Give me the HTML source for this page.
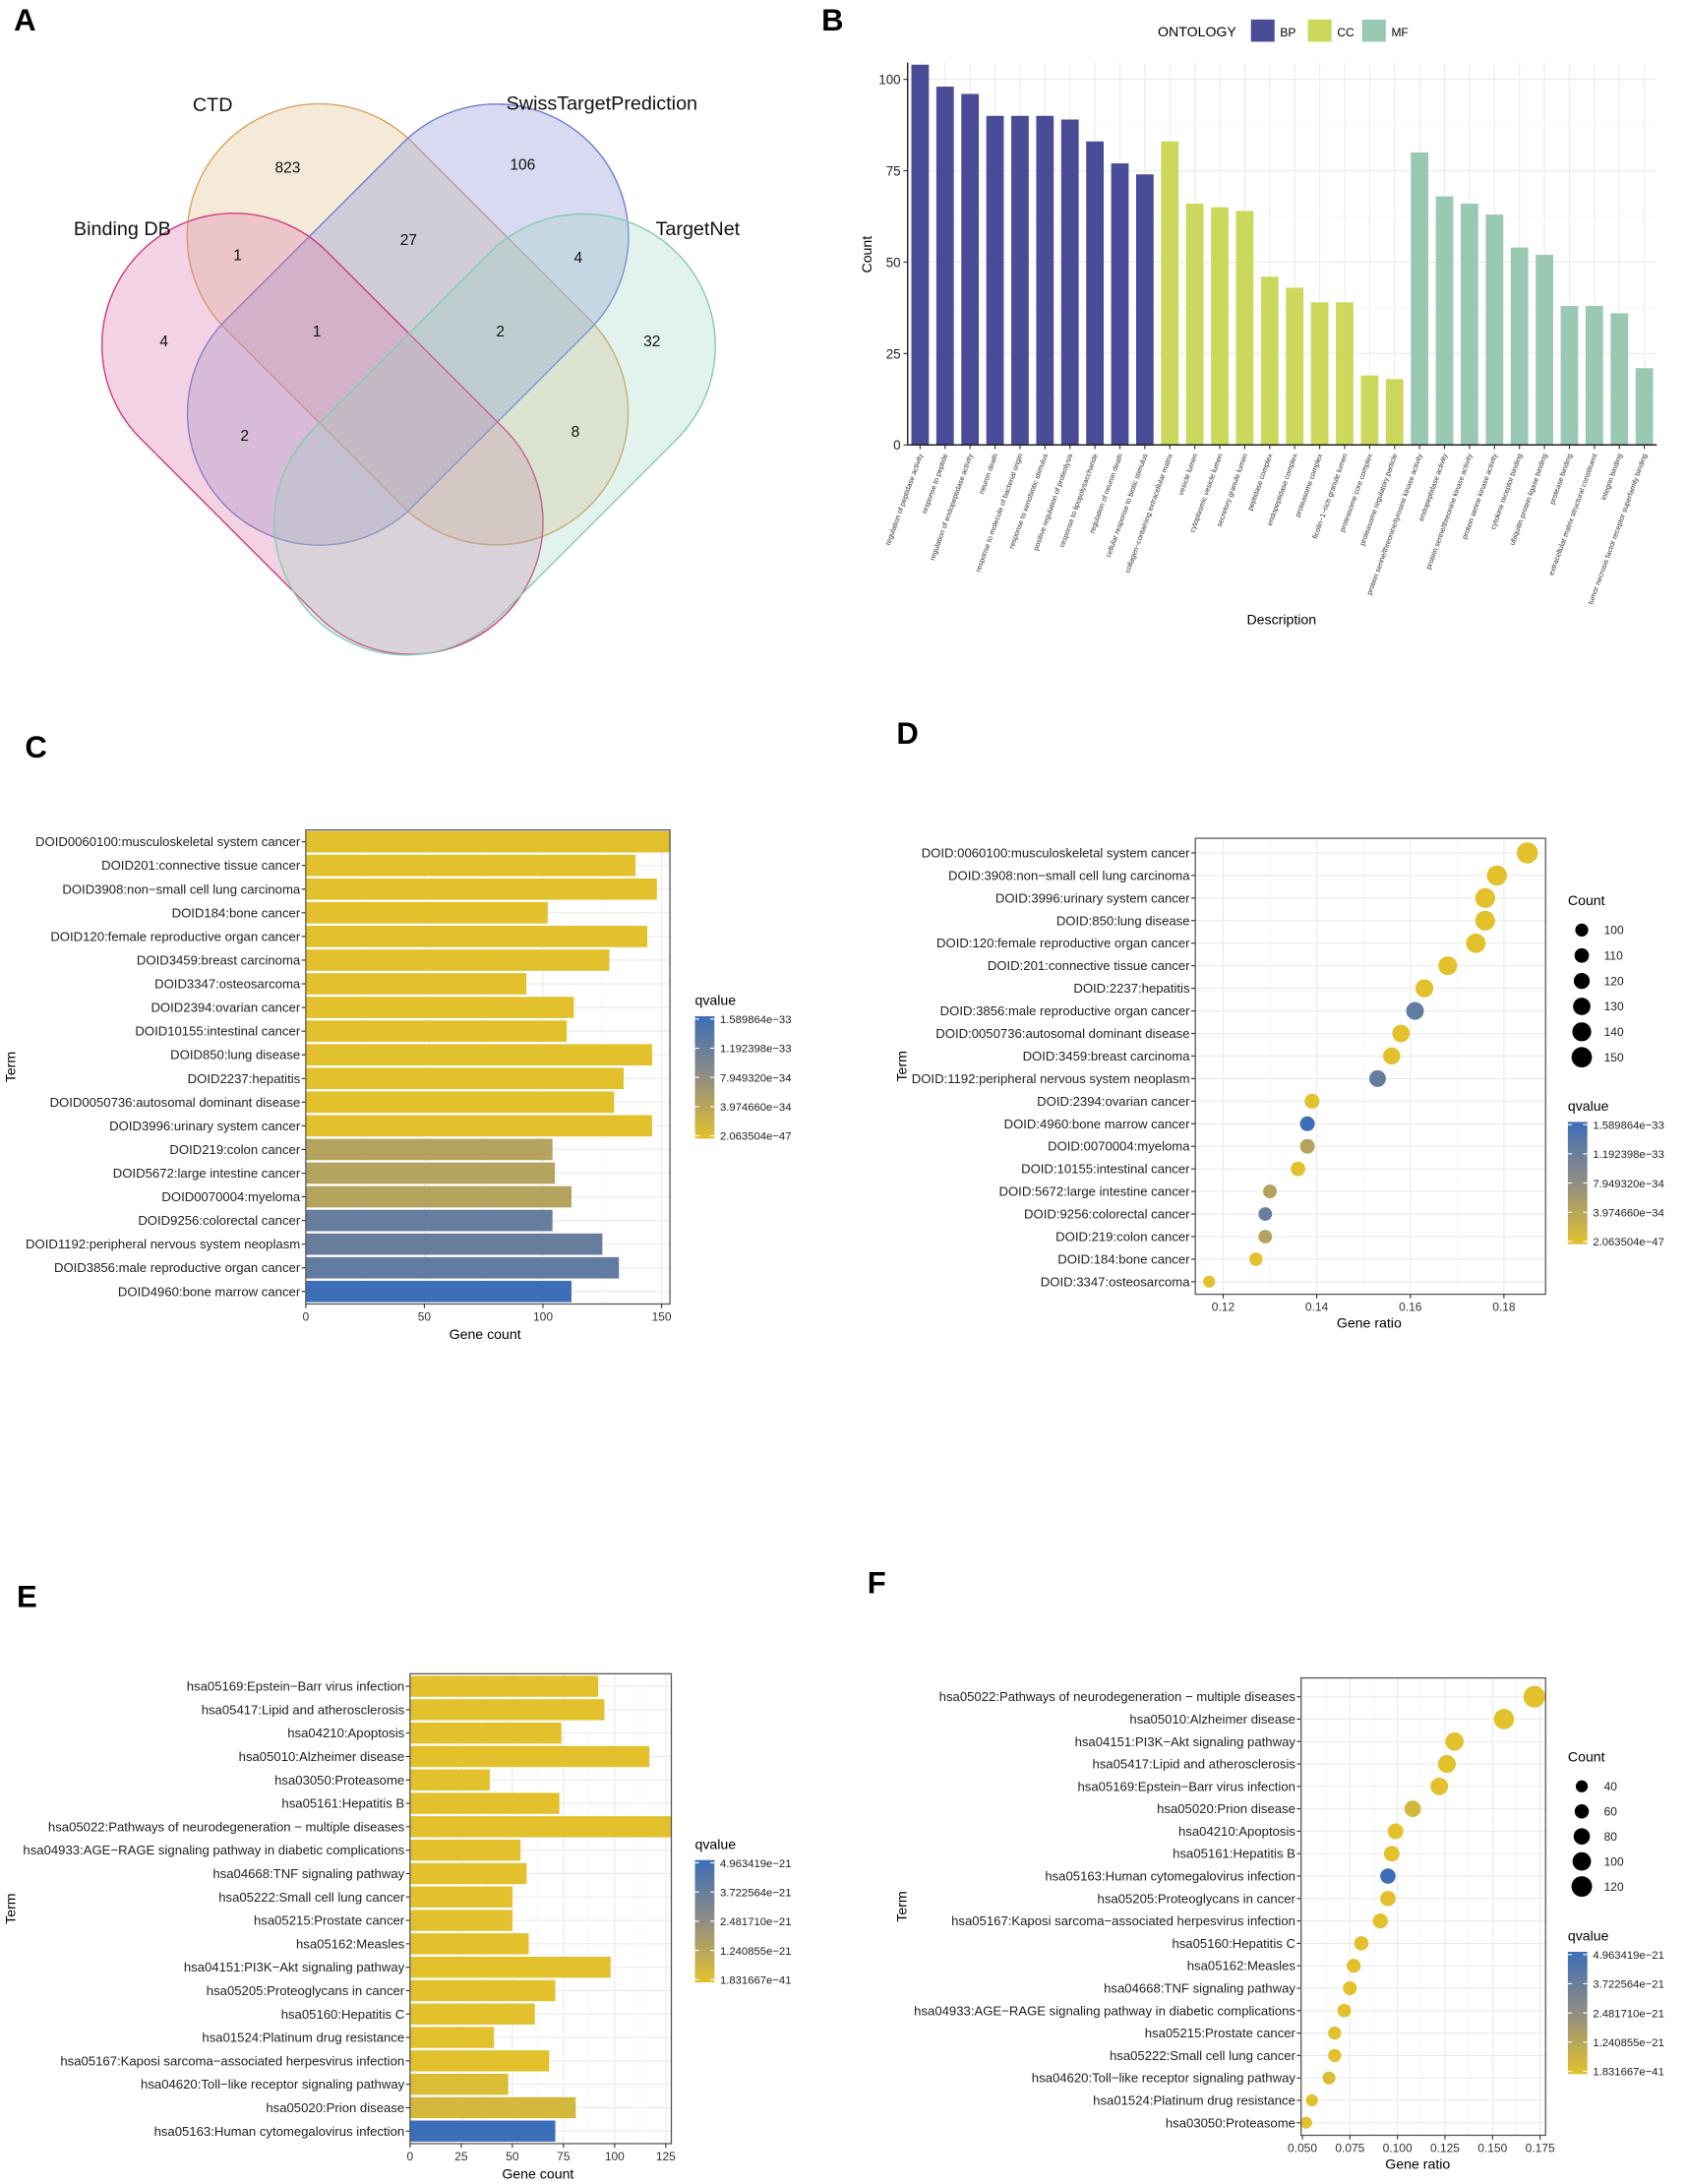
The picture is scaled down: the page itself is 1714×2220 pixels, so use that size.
<!DOCTYPE html>
<html><head><meta charset="utf-8"><style>
html,body{margin:0;padding:0;background:#fff;}
svg{display:block;font-family:"Liberation Sans",Arial,sans-serif;}
</style></head><body>
<svg id="fig" xmlns="http://www.w3.org/2000/svg" width="1714" height="2220" viewBox="0 0 1213 1571">
<rect width="1213" height="1571" fill="#fff"/>
<g>
<text x="10" y="22" font-size="22" font-weight="bold">A</text>
<rect x="108.2" y="138.5" width="370" height="190" rx="95" transform="rotate(45 293.5 233.5)" fill="rgba(230,200,150,0.38)" stroke="#d9a25e" stroke-width="1"/>
<rect x="108.5" y="138.5" width="370" height="190" rx="95" transform="rotate(-45 293.5 233.5)" fill="rgba(140,150,215,0.35)" stroke="#6e7fcf" stroke-width="1"/>
<rect x="47" y="217" width="370" height="190" rx="95" transform="rotate(45 232 312)" fill="rgba(220,120,170,0.33)" stroke="#d23a80" stroke-width="1"/>
<rect x="171" y="217.5" width="370" height="190" rx="95" transform="rotate(-45 356 312.5)" fill="rgba(150,210,190,0.28)" stroke="#86c9b2" stroke-width="1"/>
<g font-size="14" text-anchor="middle" fill="#111">
<text x="153" y="80">CTD</text>
<text x="433" y="79">SwissTargetPrediction</text>
<text x="88" y="169">Binding DB</text>
<text x="502" y="169">TargetNet</text>
</g>
<g font-size="11" text-anchor="middle" fill="#111">
<text x="207" y="124">823</text>
<text x="376" y="122">106</text>
<text x="171" y="187">1</text>
<text x="294" y="176">27</text>
<text x="416" y="189">4</text>
<text x="118" y="249">4</text>
<text x="228" y="242">1</text>
<text x="360" y="242">2</text>
<text x="469" y="249">32</text>
<text x="176" y="317">2</text>
<text x="414" y="314">8</text>
</g>
</g>
<text x="591" y="22" font-size="22" font-weight="bold">B</text>
<text x="18" y="545" font-size="22" font-weight="bold">C</text>
<text x="645" y="535" font-size="22" font-weight="bold">D</text>
<text x="12" y="1156" font-size="22" font-weight="bold">E</text>
<text x="624" y="1146" font-size="22" font-weight="bold">F</text>
</svg>
<script>
// ---------- DATA ----------
const goTerms = ["regulation of peptidase activity","response to peptide","regulation of endopeptidase activity","neuron death","response to molecule of bacterial origin","response to xenobiotic stimulus","positive regulation of proteolysis","response to lipopolysaccharide","regulation of neuron death","cellular response to biotic stimulus","collagen\u2212containing extracellular matrix","vesicle lumen","cytoplasmic vesicle lumen","secretory granule lumen","peptidase complex","endopeptidase complex","proteasome complex","ficolin\u22121\u2212rich granule lumen","proteasome core complex","proteasome regulatory particle","protein serine/threonine/tyrosine kinase activity","endopeptidase activity","protein serine/threonine kinase activity","protein serine kinase activity","cytokine receptor binding","ubiquitin protein ligase binding","protease binding","extracellular matrix structural constituent","integrin binding","tumor necrosis factor receptor superfamily binding"];
const goCounts = [104,98,96,90,90,90,89,83,77,74,83,66,65,64,46,43,39,39,19,18,80,68,66,63,54,52,38,38,36,21];
const goOntology = ["BP","BP","BP","BP","BP","BP","BP","BP","BP","BP","CC","CC","CC","CC","CC","CC","CC","CC","CC","CC","MF","MF","MF","MF","MF","MF","MF","MF","MF","MF"];
const bTicks = [0,25,50,75,100];

const doTermsC = ["DOID0060100:musculoskeletal system cancer","DOID201:connective tissue cancer","DOID3908:non\u2212small cell lung carcinoma","DOID184:bone cancer","DOID120:female reproductive organ cancer","DOID3459:breast carcinoma","DOID3347:osteosarcoma","DOID2394:ovarian cancer","DOID10155:intestinal cancer","DOID850:lung disease","DOID2237:hepatitis","DOID0050736:autosomal dominant disease","DOID3996:urinary system cancer","DOID219:colon cancer","DOID5672:large intestine cancer","DOID0070004:myeloma","DOID9256:colorectal cancer","DOID1192:peripheral nervous system neoplasm","DOID3856:male reproductive organ cancer","DOID4960:bone marrow cancer"];
const doCountsC = [155,139,148,102,144,128,93,113,110,146,134,130,146,104,105,112,104,125,132,112];
const doQC = [2e-47,2e-47,2e-47,2e-47,2e-47,2e-47,2e-47,2e-47,2e-47,2e-47,2e-47,2e-47,2e-47,4.6e-34,4.6e-34,4.6e-34,1.2e-33,1.2e-33,1.25e-33,1.589864e-33];
const cTicks = [0,50,100,150];
const doQLegend = ["1.589864e\u221233","1.192398e\u221233","7.949320e\u221234","3.974660e\u221234","2.063504e\u221247"];

const doTermsD = ["DOID:0060100:musculoskeletal system cancer","DOID:3908:non\u2212small cell lung carcinoma","DOID:3996:urinary system cancer","DOID:850:lung disease","DOID:120:female reproductive organ cancer","DOID:201:connective tissue cancer","DOID:2237:hepatitis","DOID:3856:male reproductive organ cancer","DOID:0050736:autosomal dominant disease","DOID:3459:breast carcinoma","DOID:1192:peripheral nervous system neoplasm","DOID:2394:ovarian cancer","DOID:4960:bone marrow cancer","DOID:0070004:myeloma","DOID:10155:intestinal cancer","DOID:5672:large intestine cancer","DOID:9256:colorectal cancer","DOID:219:colon cancer","DOID:184:bone cancer","DOID:3347:osteosarcoma"];
const doRatioD = [0.185,0.1785,0.176,0.176,0.174,0.168,0.163,0.161,0.158,0.156,0.153,0.139,0.138,0.138,0.136,0.130,0.129,0.129,0.127,0.117];
const doCountD = [155,148,146,146,144,139,134,132,130,128,125,113,112,112,110,105,104,104,102,93];
const doQD = [2e-47,2e-47,2e-47,2e-47,2e-47,2e-47,2e-47,1.25e-33,2e-47,2e-47,1.2e-33,2e-47,1.589864e-33,4.6e-34,2e-47,4.6e-34,1.2e-33,4.6e-34,2e-47,2e-47];
const dTicks = [0.12,0.14,0.16,0.18];
const dSizeLegend = [100,110,120,130,140,150];

const keggTermsE = ["hsa05169:Epstein\u2212Barr virus infection","hsa05417:Lipid and atherosclerosis","hsa04210:Apoptosis","hsa05010:Alzheimer disease","hsa03050:Proteasome","hsa05161:Hepatitis B","hsa05022:Pathways of neurodegeneration \u2212 multiple diseases","hsa04933:AGE\u2212RAGE signaling pathway in diabetic complications","hsa04668:TNF signaling pathway","hsa05222:Small cell lung cancer","hsa05215:Prostate cancer","hsa05162:Measles","hsa04151:PI3K\u2212Akt signaling pathway","hsa05205:Proteoglycans in cancer","hsa05160:Hepatitis C","hsa01524:Platinum drug resistance","hsa05167:Kaposi sarcoma\u2212associated herpesvirus infection","hsa04620:Toll\u2212like receptor signaling pathway","hsa05020:Prion disease","hsa05163:Human cytomegalovirus infection"];
const keggCountsE = [92,95,74,117,39,73,130,54,57,50,50,58,98,71,61,41,68,48,81,71];
const keggQE = [1e-41,1e-41,1e-41,1e-41,1e-41,1e-41,1e-41,1e-41,1e-41,1e-41,1e-41,1e-41,1e-41,1e-41,1e-41,1e-41,1e-41,2.2e-22,4.5e-22,4.963419e-21];
const eTicks = [0,25,50,75,100,125];
const keggQLegend = ["4.963419e\u221221","3.722564e\u221221","2.481710e\u221221","1.240855e\u221221","1.831667e\u221241"];

const keggTermsF = ["hsa05022:Pathways of neurodegeneration \u2212 multiple diseases","hsa05010:Alzheimer disease","hsa04151:PI3K\u2212Akt signaling pathway","hsa05417:Lipid and atherosclerosis","hsa05169:Epstein\u2212Barr virus infection","hsa05020:Prion disease","hsa04210:Apoptosis","hsa05161:Hepatitis B","hsa05163:Human cytomegalovirus infection","hsa05205:Proteoglycans in cancer","hsa05167:Kaposi sarcoma\u2212associated herpesvirus infection","hsa05160:Hepatitis C","hsa05162:Measles","hsa04668:TNF signaling pathway","hsa04933:AGE\u2212RAGE signaling pathway in diabetic complications","hsa05215:Prostate cancer","hsa05222:Small cell lung cancer","hsa04620:Toll\u2212like receptor signaling pathway","hsa01524:Platinum drug resistance","hsa03050:Proteasome"];
const keggRatioF = [0.172,0.156,0.130,0.126,0.122,0.108,0.099,0.097,0.095,0.095,0.091,0.081,0.077,0.075,0.072,0.067,0.067,0.064,0.055,0.052];
const keggCountF = [130,117,98,95,92,81,74,73,71,71,68,61,58,57,54,50,50,48,41,39];
const keggQF = [1e-41,1e-41,1e-41,1e-41,1e-41,4.5e-22,1e-41,1e-41,4.963419e-21,1e-41,1e-41,1e-41,1e-41,1e-41,1e-41,1e-41,1e-41,2.2e-22,1e-41,1e-41];
const fTicks = [0.050,0.075,0.100,0.125,0.150,0.175];
const fTickLabels = ["0.050","0.075","0.100","0.125","0.150","0.175"];
const fSizeLegend = [40,60,80,100,120];

// ---------- HELPERS ----------
const NS = "http://www.w3.org/2000/svg";
const svg = document.getElementById("fig");
const LBL = 9.3;
function mk(tag, attrs, parent) {
  const el = document.createElementNS(NS, tag);
  for (const k in attrs) el.setAttribute(k, attrs[k]);
  (parent || svg).appendChild(el);
  return el;
}
function txt(str, attrs, parent) { const t = mk("text", attrs, parent); t.textContent = str; return t; }
function lin(d0, d1, r0, r1) { return v => r0 + (v - d0) / (d1 - d0) * (r1 - r0); }
const cY = [226,193,45], cM = [145,141,130], cB = [61,110,184];
function qColor(q, qmin, qmax) {
  let t = Math.max(0, Math.min(1, (q - qmin) / (qmax - qmin)));
  let a, b, u;
  if (t < 0.5) { a = cY; b = cM; u = t / 0.5; } else { a = cM; b = cB; u = (t - 0.5) / 0.5; }
  return "rgb(" + a.map((v, i) => Math.round(v + (b[i] - v) * u)).join(",") + ")";
}
function gradient(id) {
  let defs = svg.querySelector("defs") || mk("defs", {});
  const g = mk("linearGradient", {id: id, x1: 0, y1: 1, x2: 0, y2: 0}, defs);
  mk("stop", {offset: "0", "stop-color": "rgb(226,193,45)"}, g);
  mk("stop", {offset: "0.5", "stop-color": "rgb(145,141,130)"}, g);
  mk("stop", {offset: "1", "stop-color": "rgb(61,110,184)"}, g);
}
gradient("qgrad");
function qLegend(x, y, labels, name) {
  const g = mk("g", {});
  
  
  txt("qvalue", {x: x, y: y, "font-size": 10}, g);
  const bar = mk("rect", {x: x, y: y + 8, width: 14, height: 88, fill: "url(#qgrad)"}, g);
  
  
  labels.forEach((l, i) => {
    const yy = y + 10 + i * 21;
    mk("line", {x1: x, x2: x + 3, y1: yy, y2: yy, stroke: "#fff", "stroke-width": 0.8}, g);
    mk("line", {x1: x + 11, x2: x + 14, y1: yy, y2: yy, stroke: "#fff", "stroke-width": 0.8}, g);
    const t = txt(l, {x: x + 18, y: yy + 3, "font-size": 8, fill: "#222"}, g);
    
    
  });
}

// ---------- PANEL B ----------
(function () {
  const g = mk("g", {});
  
  
  const x0 = 653, x1 = 1192, top = 45;
  const y = lin(0, 100, 320, 57);
  const step = (x1 - x0) / goTerms.length;
  const colors = {BP: "#4a4c97", CC: "#cbd85c", MF: "#9ac9b3"};
  bTicks.forEach(v => {
    mk("line", {x1: x0, x2: x1, y1: y(v), y2: y(v), stroke: "#ececec", "stroke-width": 0.8}, g);
    if (v < 100) mk("line", {x1: x0, x2: x1, y1: y(v + 12.5), y2: y(v + 12.5), stroke: "#f4f4f4", "stroke-width": 0.5}, g);
    const t = txt(String(v), {x: x0 - 5, y: y(v) + 3.5, "font-size": 9.5, "text-anchor": "end", fill: "#222"}, g);
    
    
    mk("line", {x1: x0 - 3, x2: x0, y1: y(v), y2: y(v), stroke: "#333", "stroke-width": 0.8}, g);
  });
  goTerms.forEach((term, i) => {
    const cx = x0 + step * (i + 0.5);
    mk("line", {x1: cx, x2: cx, y1: top, y2: y(0), stroke: "#ececec", "stroke-width": 0.8}, g);
  });
  goTerms.forEach((term, i) => {
    const cx = x0 + step * (i + 0.5);
    const bw = step * 0.7;
    const r = mk("rect", {x: cx - bw / 2, y: y(goCounts[i]), width: bw, height: y(0) - y(goCounts[i]), fill: colors[goOntology[i]]}, g);
    
    
    mk("line", {x1: cx, x2: cx, y1: y(0), y2: y(0) + 3, stroke: "#333", "stroke-width": 0.8}, g);
    const t = txt(term, {x: cx + 2, y: y(0) + 7, "font-size": 5.2, "text-anchor": "end", fill: "#333", transform: "rotate(-70 " + (cx + 2) + " " + (y(0) + 7) + ")"}, g);
    
    
  });
  mk("line", {x1: x0, x2: x0, y1: top, y2: y(0), stroke: "#222", "stroke-width": 1}, g);
  mk("line", {x1: x0, x2: x1, y1: y(0), y2: y(0), stroke: "#222", "stroke-width": 1}, g);
  const yt = txt("Count", {x: 627, y: 183, "font-size": 10, "text-anchor": "middle", transform: "rotate(-90 627 183)"}, g);
  
  
  const xt = txt("Description", {x: 922, y: 449, "font-size": 10, "text-anchor": "middle"}, g);
  
  
  const lt = txt("ONTOLOGY", {x: 833, y: 26, "font-size": 10}, g);
  
  
  [["BP", 900], ["CC", 941], ["MF", 980]].forEach(([k, lx]) => {
    const e = mk("rect", {x: lx, y: 14, width: 17, height: 16, fill: colors[k]}, g);
    
    
    const tl = txt(k, {x: lx + 21, y: 26, "font-size": 8.5}, g);
    
    
  });
})();

// ---------- BAR PANELS (C, E) ----------
function barPanel(o) {
  const g = mk("g", {});
  
  
  const x = lin(0, o.xmaxTick, o.px0, o.pxTick);
  const n = o.terms.length;
  const step = (o.yLast - o.yFirst) / (n - 1);
  mk("rect", {x: o.px0, y: o.py0, width: o.px1 - o.px0, height: o.py1 - o.py0, fill: "#fff"}, g);
  o.ticks.forEach((v, i) => {
    mk("line", {x1: x(v), x2: x(v), y1: o.py0, y2: o.py1, stroke: "#ebebeb", "stroke-width": 0.8}, g);
    if (i < o.ticks.length - 1) { const m = (v + o.ticks[i + 1]) / 2; mk("line", {x1: x(m), x2: x(m), y1: o.py0, y2: o.py1, stroke: "#f3f3f3", "stroke-width": 0.5}, g); }
  });
  o.terms.forEach((t, i) => { const yy = o.yFirst + i * step; mk("line", {x1: o.px0, x2: o.px1, y1: yy, y2: yy, stroke: "#ebebeb", "stroke-width": 0.8}, g); });
  o.terms.forEach((term, i) => {
    const yy = o.yFirst + i * step;
    const w = Math.min(x(o.counts[i]), o.px1) - o.px0;
    const r = mk("rect", {x: o.px0, y: yy - step * 0.45, width: w, height: step * 0.9, fill: qColor(o.q[i], o.qmin, o.qmax)}, g);
    
    
    mk("line", {x1: o.px0 - 3, x2: o.px0, y1: yy, y2: yy, stroke: "#333", "stroke-width": 0.8}, g);
    const t = txt(term, {x: o.px0 - 4, y: yy + 3.2, "font-size": LBL, "text-anchor": "end", fill: "#222"}, g);
    
    
  });
  mk("rect", {x: o.px0, y: o.py0, width: o.px1 - o.px0, height: o.py1 - o.py0, fill: "none", stroke: "#555", "stroke-width": 0.9}, g);
  o.ticks.forEach(v => {
    mk("line", {x1: x(v), x2: x(v), y1: o.py1, y2: o.py1 + 3, stroke: "#333", "stroke-width": 0.8}, g);
    const t = txt(String(v), {x: x(v), y: o.py1 + 12, "font-size": 8.5, "text-anchor": "middle", fill: "#333"}, g);
    
    
  });
  const xt = txt("Gene count", {x: (o.px0 + o.px1) / 2 - 2, y: o.py1 + 25, "font-size": 10, "text-anchor": "middle"}, g);
  
  
  const ym = (o.py0 + o.py1) / 2;
  const yt = txt("Term", {x: 11, y: ym, "font-size": 10, "text-anchor": "middle", transform: "rotate(-90 11 " + ym + ")"}, g);
  
  
  qLegend(o.lx, o.ly, o.qlabels, "qvalue-legend");
}
barPanel({name: "panel-c-do-bar-chart", terms: doTermsC, counts: doCountsC, q: doQC, qmin: 2.063504e-47, qmax: 1.589864e-33, ticks: cTicks, xmaxTick: 150, px0: 220, pxTick: 476, px1: 482, py0: 597, py1: 938, yFirst: 605.5, yLast: 929, lx: 500, ly: 723, qlabels: doQLegend});
barPanel({name: "panel-e-kegg-bar-chart", terms: keggTermsE, counts: keggCountsE, q: keggQE, qmin: 1.831667e-41, qmax: 4.963419e-21, ticks: eTicks, xmaxTick: 125, px0: 295, pxTick: 479, px1: 483, py0: 1204, py1: 1542, yFirst: 1213, yLast: 1533, lx: 500, ly: 1330, qlabels: keggQLegend});

// ---------- DOT PANELS (D, F) ----------
function dotPanel(o) {
  const g = mk("g", {});
  
  
  const x = lin(o.ticks[0], o.ticks[o.ticks.length - 1], o.tx0, o.tx1);
  const rs = lin(o.cmin, o.cmax, o.rmin, o.rmax);
  const n = o.terms.length;
  const step = (o.yLast - o.yFirst) / (n - 1);
  o.ticks.forEach((v, i) => {
    mk("line", {x1: x(v), x2: x(v), y1: o.py0, y2: o.py1, stroke: "#ebebeb", "stroke-width": 0.8}, g);
    if (i < o.ticks.length - 1) { const m = (v + o.ticks[i + 1]) / 2; mk("line", {x1: x(m), x2: x(m), y1: o.py0, y2: o.py1, stroke: "#f3f3f3", "stroke-width": 0.5}, g); }
  });
  o.terms.forEach((term, i) => {
    const yy = o.yFirst + i * step;
    mk("line", {x1: o.px0, x2: o.px1, y1: yy, y2: yy, stroke: "#ebebeb", "stroke-width": 0.8}, g);
    mk("line", {x1: o.px0 - 3, x2: o.px0, y1: yy, y2: yy, stroke: "#333", "stroke-width": 0.8}, g);
    const t = txt(term, {x: o.px0 - 4, y: yy + 3.2, "font-size": LBL, "text-anchor": "end", fill: "#222"}, g);
    
    
  });
  o.terms.forEach((term, i) => {
    const yy = o.yFirst + i * step;
    const c = mk("circle", {cx: x(o.ratio[i]), cy: yy, r: rs(o.counts[i]), fill: qColor(o.q[i], o.qmin, o.qmax)}, g);
    
    
  });
  mk("rect", {x: o.px0, y: o.py0, width: o.px1 - o.px0, height: o.py1 - o.py0, fill: "none", stroke: "#555", "stroke-width": 0.9}, g);
  o.ticks.forEach((v, i) => {
    mk("line", {x1: x(v), x2: x(v), y1: o.py1, y2: o.py1 + 3, stroke: "#333", "stroke-width": 0.8}, g);
    const t = txt(o.tickLabels[i], {x: x(v), y: o.py1 + 12, "font-size": 8.5, "text-anchor": "middle", fill: "#333"}, g);
    
    
  });
  const xt = txt("Gene ratio", {x: o.xtitleX, y: o.py1 + 24, "font-size": 10, "text-anchor": "middle"}, g);
  
  
  const ym = (o.py0 + o.py1) / 2;
  const yt = txt("Term", {x: 652, y: ym, "font-size": 10, "text-anchor": "middle", transform: "rotate(-90 652 " + ym + ")"}, g);
  
  
  const sg = mk("g", {}, g);
  
  
  txt("Count", {x: 1128, y: o.sly, "font-size": 10}, sg);
  o.sizes.forEach((s, i) => {
    const yy = o.sly + 18 + i * o.slStep;
    const c = mk("circle", {cx: 1138, cy: yy, r: rs(s), fill: "#000"}, sg);
    
    
    txt(String(s), {x: 1154, y: yy + 3, "font-size": 8.5, fill: "#222"}, sg);
  });
  qLegend(1128, o.qly, o.qlabels, "qvalue-legend");
}
dotPanel({name: "panel-d-do-dot-chart", terms: doTermsD, ratio: doRatioD, counts: doCountD, q: doQD, qmin: 2.063504e-47, qmax: 1.589864e-33, ticks: dTicks, tickLabels: ["0.12","0.14","0.16","0.18"], tx0: 880, tx1: 1082, px0: 860, px1: 1112, py0: 603, py1: 931, yFirst: 613.5, yLast: 922, cmin: 93, cmax: 155, rmin: 4.3, rmax: 7.6, sizes: dSizeLegend, sly: 651, slStep: 18.3, qly: 799, xtitleX: 985, qlabels: doQLegend});
dotPanel({name: "panel-f-kegg-dot-chart", terms: keggTermsF, ratio: keggRatioF, counts: keggCountF, q: keggQF, qmin: 1.831667e-41, qmax: 4.963419e-21, ticks: fTicks, tickLabels: fTickLabels, tx0: 937, tx1: 1108, px0: 936, px1: 1112, py0: 1207, py1: 1536, yFirst: 1220.5, yLast: 1527, cmin: 39, cmax: 130, rmin: 4.3, rmax: 7.8, sizes: fSizeLegend, sly: 1267, slStep: 18, qly: 1396, xtitleX: 1020, qlabels: keggQLegend});
</script>
</body></html>
